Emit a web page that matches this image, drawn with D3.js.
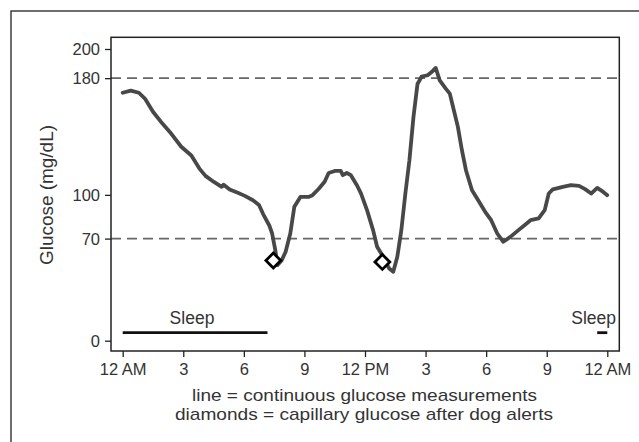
<!DOCTYPE html>
<html><head><meta charset="utf-8">
<script src="https://cdn.jsdelivr.net/npm/d3@7"></script>
<style>body{margin:0;background:#fff;} text{font-family:"Liberation Sans",Arial,sans-serif;fill:#333;}</style>
</head><body>
<svg id="c" width="639" height="442"></svg>
<script>
// Continuous glucose (hour of day, mg/dL)
const cgmHours = [0,0.4,0.8,1.1,1.5,1.9,2.4,2.9,3.4,3.8,4.1,4.5,4.9,5.0,5.3,5.7,6.05,6.45,6.75,6.95,7.26,7.4,7.56,7.66,7.87,8.07,8.3,8.5,8.8,9.2,9.4,9.7,10.0,10.2,10.5,10.8,10.9,11.1,11.3,11.6,11.8,12.1,12.4,12.6,12.9,13.2,13.4,13.6,13.8,14.0,14.2,14.4,14.6,14.8,15.1,15.3,15.5,15.7,16.0,16.2,16.4,16.6,16.8,17.0,17.3,17.65,17.95,18.25,18.55,18.85,19.2,19.6,19.9,20.2,20.6,20.9,21.1,21.3,21.8,22.2,22.6,22.9,23.2,23.5,23.8,24];
const cgmValues = [170,171.5,170,166,157,150,142,133,127,118,113,109,105.5,107,103.7,101.4,99.3,96.3,93,87,79,73.5,62,51.8,55,61,73.5,91.8,98.6,98.6,99.8,104,109,115,116.4,116.4,113.5,115,113.5,106.6,101,89.5,75.8,64.4,57.5,49.5,47.3,57.5,75.8,101,123.7,153.4,176,181,182,184.2,187,178.5,172.8,169.4,158,146.6,130.6,116.9,103.2,95.2,88.4,82.6,73.5,67.8,71.2,75.8,79.2,82.6,83.8,89.5,100.9,103.7,105.5,106.6,106.2,103.9,100.9,104.8,102,99.8];
// Capillary glucose after dog alerts
const alertHours = [7.46, 12.86];
const alertValues = [55, 54];
// Reference thresholds
const refLines = [180, 70];
// Sleep periods [start, end]
const sleepStart = [0, 23.5];
const sleepEnd = [7.17, 24];
// Axis ticks
const yTicks = [0, 70, 100, 180, 200];
const xTicks = [0, 3, 6, 9, 12, 15, 18, 21, 24];
const xTickLabels = ["12 AM","3","6","9","12 PM","3","6","9","12 AM"];

const svg = d3.select("#c");
const x = d3.scaleLinear().domain([0,24]).range([122.7,607.3]);
const y = d3.scaleLinear().domain([0,200]).range([340.7,49]);
const fL=111, fR=619.3, fT=37.3, fB=351;

// outer border
svg.append("rect").attr("x",11).attr("y",11).attr("width",700).attr("height",500)
  .attr("fill","none").attr("stroke","#222").attr("stroke-width",1.3);

// reference lines
svg.selectAll(".ref").data(refLines).join("line")
  .attr("x1",fL).attr("x2",fR).attr("y1",d=>y(d)).attr("y2",d=>y(d))
  .attr("stroke","#666").attr("stroke-width",1.6).attr("stroke-dasharray","10,6");

// frame
svg.append("rect").attr("x",fL).attr("y",fT).attr("width",fR-fL).attr("height",fB-fT)
  .attr("fill","none").attr("stroke","#222").attr("stroke-width",1.5);

// axes
const yAxis = d3.axisLeft(y).tickValues(yTicks).tickSize(6).tickPadding(5);
const gy = svg.append("g").attr("transform",`translate(${fL},0)`).call(yAxis);
gy.select(".domain").remove();
gy.selectAll("line").attr("stroke","#222").attr("stroke-width",1.3);
gy.selectAll("text").style("font-size","16.5px").attr("fill","#333").attr("dy","0.35em");

const xAxis = d3.axisBottom(x).tickValues(xTicks).tickSize(6).tickPadding(6)
  .tickFormat((d,i)=>xTickLabels[i]);
const gx = svg.append("g").attr("transform",`translate(0,${fB})`).call(xAxis);
gx.select(".domain").remove();
gx.selectAll("line").attr("stroke","#222").attr("stroke-width",1.3);
gx.selectAll("text").style("font-size","16.5px").attr("fill","#333").attr("dy","0.72em");

// sleep bars
const sleep = sleepStart.map((s,i)=>({s, e: sleepEnd[i]}));
svg.selectAll(".sleep").data(sleep).join("line")
  .attr("x1",d=>x(d.s)).attr("x2",d=>x(d.e)).attr("y1",y(5.5)).attr("y2",y(5.5))
  .attr("stroke","#111").attr("stroke-width",2.8);
svg.append("text").attr("x",192).attr("y",324.3).attr("text-anchor","middle")
  .style("font-size","17.5px").text("Sleep");
svg.append("text").attr("x",616).attr("y",323.5).attr("text-anchor","end")
  .style("font-size","17.5px").text("Sleep");

// CGM line
const pts = cgmHours.map((h,i)=>[h,cgmValues[i]]);
svg.append("path").datum(pts)
  .attr("d", d3.line().x(d=>x(d[0])).y(d=>y(d[1])))
  .attr("fill","none").attr("stroke","#484848").attr("stroke-width",3.8)
  .attr("stroke-linejoin","round").attr("stroke-linecap","round");

// diamonds
const sym = d3.symbol().type(d3.symbolSquare).size(110);
svg.selectAll(".dia").data(alertHours.map((h,i)=>[h,alertValues[i]])).join("path")
  .attr("d", sym)
  .attr("transform", d=>`translate(${x(d[0])},${y(d[1])}) rotate(45)`)
  .attr("fill","#fff").attr("stroke","#000").attr("stroke-width",2.8);

// y title
svg.append("text").attr("transform","translate(53,195) rotate(-90)")
  .attr("text-anchor","middle").style("font-size","18px")
  .attr("textLength",140).attr("lengthAdjust","spacingAndGlyphs").text("Glucose (mg/dL)");

// caption
svg.append("text").attr("x",364.5).attr("y",400.5).attr("text-anchor","middle")
  .style("font-size","17px").attr("textLength",345).attr("lengthAdjust","spacingAndGlyphs")
  .text("line = continuous glucose measurements");
svg.append("text").attr("x",364).attr("y",420).attr("text-anchor","middle")
  .style("font-size","17px").attr("textLength",378).attr("lengthAdjust","spacingAndGlyphs")
  .text("diamonds = capillary glucose after dog alerts");
</script>
</body></html>
